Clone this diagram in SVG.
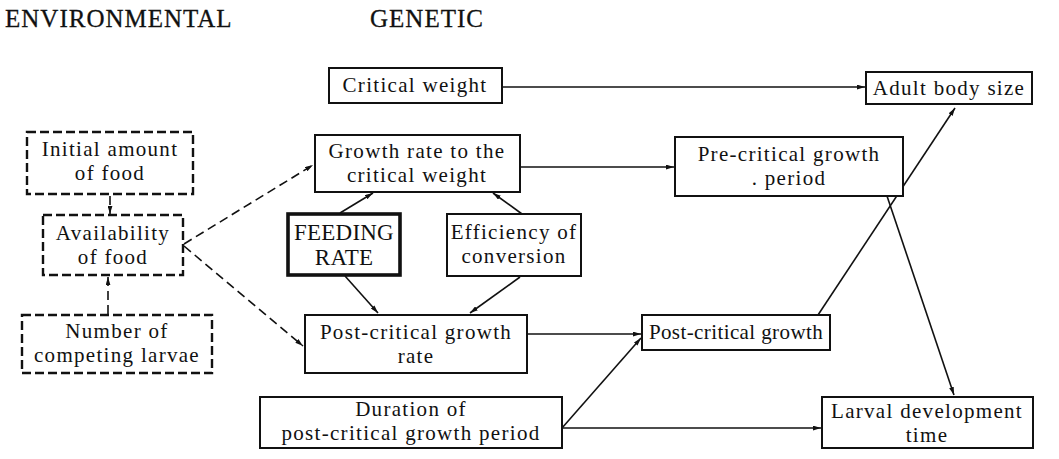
<svg xmlns="http://www.w3.org/2000/svg" width="1059" height="459" viewBox="0 0 1059 459">
<style>
text{font-family:"Liberation Serif","Times New Roman",serif;font-size:21px;letter-spacing:1.3px;fill:#111;text-anchor:middle}
.hdr{text-anchor:start;font-size:25px;letter-spacing:1px;stroke:#111;stroke-width:0.3}
.tight{letter-spacing:0.4px}
.big{font-size:23px;letter-spacing:0.2px}
.box{fill:#fff;stroke:#111;stroke-width:2}
.dbox{fill:#fff;stroke:#111;stroke-width:2.4;stroke-dasharray:9 4}
.thick{fill:#fff;stroke:#111;stroke-width:3.6}
.c{fill:none;stroke:#111;stroke-width:1.6;marker-end:url(#ah)}
.d{stroke-dasharray:9 5}
</style>
<defs>
<marker id="ah" viewBox="0 0 10 6" refX="10" refY="3" markerWidth="8" markerHeight="5" orient="auto" markerUnits="userSpaceOnUse">
<path d="M0,0 L10,3 L0,6 z" fill="#111"/>
</marker>
</defs>
<text class="hdr" x="5" y="27">ENVIRONMENTAL</text>
<text class="hdr" x="370" y="27">GENETIC</text>
<g id="connectors">
<line class="c d" x1="110" y1="196" x2="110" y2="214"/>
<line class="c d" x1="108" y1="314" x2="108" y2="277"/>
<line class="c d" x1="184" y1="244" x2="313" y2="165"/>
<line class="c d" x1="184" y1="246" x2="303" y2="346"/>
<line class="c" x1="502" y1="87" x2="865" y2="87"/>
<line class="c" x1="520" y1="167" x2="674" y2="167"/>
<line class="c" x1="340" y1="213" x2="373" y2="193"/>
<line class="c" x1="522" y1="214" x2="493" y2="193"/>
<line class="c" x1="345" y1="276" x2="378" y2="313"/>
<line class="c" x1="520" y1="277" x2="470" y2="313"/>
<line class="c" x1="527" y1="334" x2="641" y2="334"/>
<line class="c" x1="562" y1="428" x2="641" y2="338"/>
<line class="c" x1="562" y1="428" x2="821" y2="428"/>
<line class="c" x1="887" y1="196" x2="954" y2="395"/>
<line class="c" x1="818" y1="315" x2="955" y2="108"/>
</g>
<g id="initial"><rect class="dbox" x="27" y="132" width="166" height="62"/><text x="110" y="156">Initial amount</text><text x="110" y="180">of food</text></g>
<g id="availability"><rect class="dbox" x="43" y="215" width="140" height="60"/><text x="113" y="240">Availability</text><text x="113" y="264">of food</text></g>
<g id="number"><rect class="dbox" x="22" y="315" width="190" height="58"/><text x="117" y="338">Number of</text><text x="117" y="362">competing larvae</text></g>
<g id="critical"><rect class="box" x="329" y="68" width="173" height="35"/><text x="415" y="92">Critical weight</text></g>
<g id="growthrate"><rect class="box" x="315" y="135" width="205" height="57"/><text x="417" y="158">Growth rate to the</text><text x="417" y="182">critical weight</text></g>
<g id="feeding"><rect class="thick" x="288" y="214" width="112" height="61"/><text class="big" x="344" y="240">FEEDING</text><text class="big" x="344" y="265">RATE</text></g>
<g id="efficiency"><rect class="box" x="447" y="214" width="134" height="62"/><text x="514" y="239">Efficiency of</text><text x="514" y="263">conversion</text></g>
<g id="postrate"><rect class="box" x="305" y="315" width="222" height="58"/><text x="416" y="339">Post-critical growth</text><text x="416" y="363">rate</text></g>
<g id="duration"><rect class="box" x="260" y="397" width="302" height="51"/><text x="411" y="416">Duration of</text><text x="411" y="440">post-critical growth period</text></g>
<g id="precritical"><rect class="box" x="675" y="137" width="228" height="59"/><text x="789" y="161">Pre-critical growth</text><text x="789" y="185">. period</text></g>
<g id="postgrowth"><rect class="box" x="642" y="315" width="188" height="35"/><text class="tight" x="736" y="339">Post-critical growth</text></g>
<g id="adult"><rect class="box" x="866" y="72" width="166" height="32"/><text x="949" y="95">Adult body size</text></g>
<g id="larval"><rect class="box" x="822" y="397" width="211" height="51"/><text x="927" y="418">Larval development</text><text x="927" y="442">time</text></g>
</svg>
